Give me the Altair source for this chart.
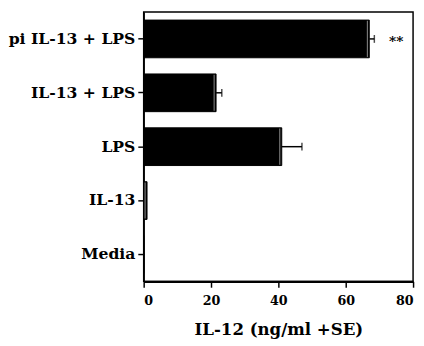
import altair as alt
import pandas as pd

groups = ["pi IL-13 + LPS", "IL-13 + LPS", "LPS", "IL-13", "Media"]
values = [67.0, 21.5, 41.0, 1.0, 0.0]
errors = [1.5, 1.7, 6.0, 0.0, 0.0]
sig = ["**", "", "", "", ""]

df = pd.DataFrame({"group": groups, "value": values, "err": errors, "sig": sig})
df["hi"] = df["value"] + df["err"]
df["sigx"] = 75.0

FONT = "DejaVu Serif"

y_enc = alt.Y("group:N", sort=groups, title=None,
              scale=alt.Scale(paddingInner=0.3, paddingOuter=0.15))
x_scale = alt.Scale(domain=[0, 80], nice=False)

bars = alt.Chart(df).mark_bar(color="black", stroke="black", strokeWidth=1).encode(
    x=alt.X("value:Q", scale=x_scale, title="IL-12 (ng/ml +SE)",
            axis=alt.Axis(values=[0, 20, 40, 60, 80], format="d")),
    y=y_enc,
)

shine = alt.Chart(df[df["value"] > 0]).mark_tick(
    color="#cccccc", orient="vertical", size=37, thickness=1, xOffset=-2
).encode(x=alt.X("value:Q", scale=x_scale), y=alt.Y("group:N", sort=groups))

err_df = df[df["err"] > 0]
err_line = alt.Chart(err_df).mark_rule(color="black", strokeWidth=1.5).encode(
    x=alt.X("value:Q", scale=x_scale), x2="hi:Q", y=alt.Y("group:N", sort=groups)
)
err_cap = alt.Chart(err_df).mark_tick(
    color="black", orient="vertical", size=8, thickness=1.5
).encode(x=alt.X("hi:Q", scale=x_scale), y=alt.Y("group:N", sort=groups))

stars = alt.Chart(df[df["sig"] != ""]).mark_text(
    font=FONT, fontSize=14, fontWeight="bold", color="black", align="center", dy=3
).encode(x=alt.X("sigx:Q", scale=x_scale), y=alt.Y("group:N", sort=groups), text="sig:N")

chart = alt.layer(bars, shine, err_line, err_cap, stars).properties(
    width=276, height=276, padding={"left": 0, "top": 0, "right": 2, "bottom": 0}
).configure_view(
    stroke="black", strokeWidth=1.5
).configure_axis(
    labelFont=FONT, labelFontWeight="bold", labelColor="black",
    titleFont=FONT, titleFontSize=17, titleFontWeight="bold", titleColor="black",
    domainColor="black", tickColor="black", tickSize=6, tickWidth=1.5,
    grid=False,
).configure_axisX(
    domainWidth=2.5, titlePadding=14, labelPadding=8, labelFontSize=13
).configure_axisY(
    domainWidth=1.5, labelPadding=3, labelFontSize=16
)

chart.save("out.html", embed_options={"renderer": "svg", "actions": False})
